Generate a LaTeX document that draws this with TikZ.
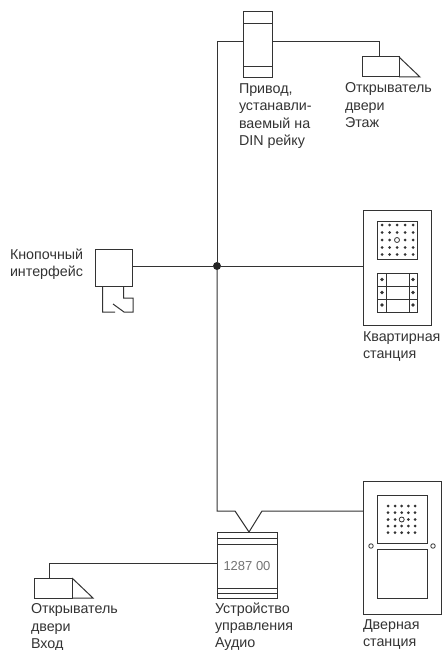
\documentclass[tikz,border=0pt]{standalone}
\usepackage{fontspec}
\setmainfont{Liberation Sans}
\definecolor{ink}{HTML}{333333}
\tikzset{
  wire/.style={draw=ink,line width=1pt,line join=miter},
  box/.style={draw=ink,line width=1pt,rectangle,inner sep=0pt,outer sep=0pt,anchor=north west},
  lbl/.style={anchor=north west,align=left,inner sep=0pt,outer sep=0pt,text=ink,
    font=\fontsize{14.3}{17.1}\selectfont},
  hole/.style={circle,fill=ink,inner sep=0pt,minimum size=3pt},
  ring/.style={circle,draw=ink,line width=0.8pt,inner sep=0pt,minimum size=5pt},
  junction/.style={circle,fill=ink!70!black,inner sep=0pt,minimum size=8pt},
}
\newcommand{\boxat}[6][box]{\node[#1,minimum width=#5-#3,minimum height=#6-#4] (#2) at (#3,#4) {};}
\begin{document}
\begin{tikzpicture}[x=1pt,y=-1pt]
\useasboundingbox (0,0) rectangle (443,650);
% actuator
\boxat{act}{243.5}{12}{272}{78}
\draw[wire] (243.5,24) -- (272,24) (243.5,67) -- (272,67);
\coordinate (actL) at (243.5,42);
\coordinate (actR) at (272,42);
\coordinate (topbend) at (217,42);
\coordinate (oprbend) at (379,42);
% upper opener
\boxat{opT}{362}{57}{399}{77}
\coordinate (opTtip) at (420,77);
\draw[wire] (opT.north east) -- (opTtip) -- (opT.south east);
\coordinate (opTin) at (379,57);
\draw[wire] (actR) -- (oprbend) -- (opTin);
% junction
\node[junction] (jn) at (217,266) {};
\draw[wire] (actL) -- (topbend) -- (jn);
% button interface
\boxat{iface}{95}{249}{132}{286}
\coordinate (ifaceR) at (132,266);
\draw[wire] (ifaceR) -- (jn);
\coordinate (sw1) at (102.5,286);
\coordinate (sw2) at (102.5,312);
\coordinate (sw3) at (115,312);
\coordinate (sw4) at (113,304);
\coordinate (sw5) at (124,312);
\coordinate (sw6) at (133,312);
\coordinate (sw7) at (133,298);
\coordinate (sw8) at (123.5,298);
\coordinate (sw9) at (123.5,286);
\draw[wire] (sw1) -- (sw2) -- (sw3) (sw4) -- (sw5) -- (sw6) -- (sw7) -- (sw8) -- (sw9);
% apartment station
\boxat{apt}{363}{210}{431}{325}
\coordinate (aptL) at (363,266);
\draw[wire] (jn) -- (aptL);
\boxat{aptspk}{377}{221}{417}{259}
\foreach \x in {382,389.7,397,405,413}
  \foreach \y in {225,232.5,240,247.5,254.5}
    {\ifdim\x pt=397pt \ifdim\y pt=240pt \else \node[hole] at (\x,\y) {}; \fi
     \else \node[hole] at (\x,\y) {}; \fi}
\node[ring] (aptmic) at (397,240) {};
\boxat{aptbtn}{377}{273}{417}{312}
\draw[wire] (377,286) -- (417,286) (377,299) -- (417,299)
  (386,273) -- (386,312) (409,273) -- (409,312);
\foreach \x in {382,413}
  \foreach \y in {279.5,292.5,305}
    \node[hole,minimum size=3.6pt] at (\x,\y) {};
% door station
\boxat{door}{363}{481}{441}{614}
\boxat{doorspk}{377}{495}{427}{543}
\boxat{doorlow}{377}{549}{427}{598}
\node[ring,minimum size=4.5pt] (ringL) at (371,546) {};
\node[ring,minimum size=4.5pt] (ringR) at (433,546) {};
\foreach \x in {388,395,401.7,408.3,415}
  \foreach \y in {506,512.7,519.5,526,532.7}
    {\ifdim\x pt=401.7pt \ifdim\y pt=519.5pt \else \node[hole] at (\x,\y) {}; \fi
     \else \node[hole] at (\x,\y) {}; \fi}
\node[ring] (doormic) at (401.7,519.5) {};
% controller
\boxat{ctrl}{217}{532}{277}{598}
\draw[wire] (217,538) -- (277,538) (217,544) -- (277,544) (217,588) -- (277,588) (217,593.5) -- (277,593.5);
\node[anchor=center,inner sep=0pt,text=black!55,font=\fontsize{13}{15}\selectfont] (ctrltxt) at (247,566) {1287 00};
\coordinate (ctrlT) at (249,532);
\coordinate (bendA) at (217,511);
\coordinate (bendB) at (235,511);
\coordinate (bendC) at (262,511);
\coordinate (doorL) at (363,511);
\draw[wire] (jn) -- (bendA) -- (bendB) -- (ctrlT) -- (bendC) -- (doorL);
% lower opener
\boxat{opB}{34}{578}{72}{598}
\coordinate (opBtip) at (93,598);
\draw[wire] (opB.north east) -- (opBtip) -- (opB.south east);
\coordinate (opBin) at (49.5,578);
\coordinate (opBbend) at (49.5,563.5);
\coordinate (ctrlL) at (217,563.5);
\draw[wire] (ctrlL) -- (opBbend) -- (opBin);
% labels
\node[lbl] (l1) at (239,84) {Привод,\\устанавли-\\ваемый на\\DIN рейку};
\node[lbl] (l2) at (345,83) {Открыватель\\двери\\Этаж};
\node[lbl] (l3) at (10,249) {Кнопочный\\интерфейс};
\node[lbl] (l4) at (363,331.5) {Квартирная\\станция};
\node[lbl] (l5) at (215,603) {Устройство\\управления\\Аудио};
\node[lbl] (l6) at (363,620) {Дверная\\станция};
\node[lbl] (l7) at (31,604) {Открыватель\\двери\\Вход};
\end{tikzpicture}
\end{document}
